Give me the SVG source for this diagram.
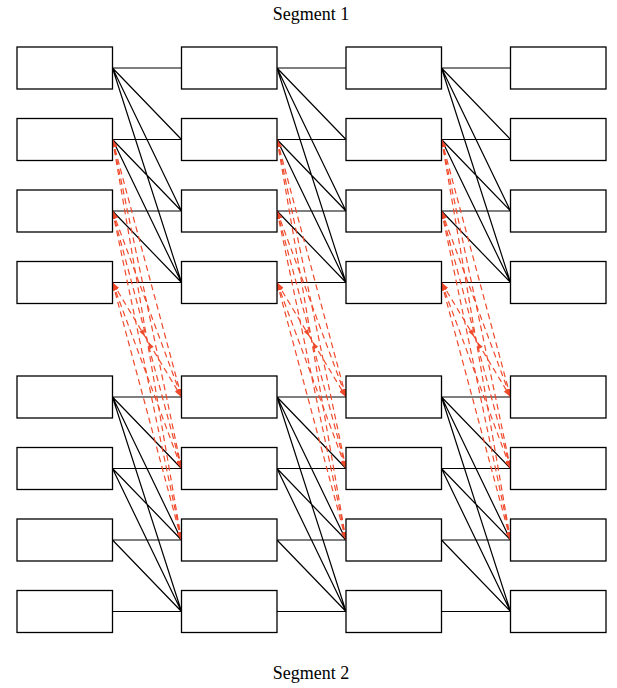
<svg xmlns="http://www.w3.org/2000/svg" width="617" height="688" viewBox="0 0 617 688">
<style>
.box{fill:#fff;stroke:#000;stroke-width:1.3}
.blk{fill:none;stroke:#000;stroke-width:1.2}
.red{fill:none;stroke:#f04a2c;stroke-width:1.2;stroke-dasharray:6 4;marker-start:url(#ah);marker-end:url(#ah)}
.ah{fill:#f04a2c}
.lbl{font-family:"Liberation Serif",serif;font-size:18px;fill:#000;text-anchor:middle}
</style>
<defs>
<marker id="ah" viewBox="0 0 8 6" refX="8" refY="3" markerWidth="8" markerHeight="6" markerUnits="userSpaceOnUse" orient="auto-start-reverse">
<path d="M0,0 L8,3 L0,6 Z" fill="#f04a2c"/>
</marker>
<g id="redset">
<line class="red" x1="112.5" y1="139.5" x2="181.5" y2="397"/>
<line class="red" x1="112.5" y1="139.5" x2="181.5" y2="468.5"/>
<line class="red" x1="112.5" y1="139.5" x2="181.5" y2="540"/>
<line class="red" x1="112.5" y1="211" x2="181.5" y2="397"/>
<line class="red" x1="112.5" y1="211" x2="181.5" y2="468.5"/>
<line class="red" x1="112.5" y1="211" x2="181.5" y2="540"/>
<line class="red" x1="112.5" y1="282.5" x2="181.5" y2="397"/>
<line class="red" x1="112.5" y1="282.5" x2="181.5" y2="468.5"/>
<line class="red" x1="112.5" y1="282.5" x2="181.5" y2="540"/>
<polygon class="ah" points="145,336.5 143.5,329.2 139.3,331.8"/>
<polygon class="ah" points="148,342 153.7,346.7 149.5,349.3"/>
</g>
<path id="blkset" class="blk" d="M112.5,68 L181.5,68 M112.5,68 L181.5,139.5 M112.5,68 L181.5,211 M112.5,68 L181.5,282.5 M112.5,139.5 L181.5,139.5 M112.5,139.5 L181.5,211 M112.5,139.5 L181.5,282.5 M112.5,211 L181.5,211 M112.5,211 L181.5,282.5 M112.5,282.5 L181.5,282.5 M112.5,397 L181.5,397 M112.5,397 L181.5,468.5 M112.5,397 L181.5,540 M112.5,397 L181.5,611.5 M112.5,468.5 L181.5,468.5 M112.5,468.5 L181.5,540 M112.5,468.5 L181.5,611.5 M112.5,540 L181.5,540 M112.5,540 L181.5,611.5 M112.5,611.5 L181.5,611.5"/>
</defs>
<rect width="617" height="688" fill="#fff"/>
<g id="connectors">
<use href="#blkset"/>
<use href="#blkset" x="164.5"/>
<use href="#blkset" x="329"/>
<use href="#redset"/>
<use href="#redset" x="164.5"/>
<use href="#redset" x="329"/>
</g>
<g id="nodes">
<g id="n-c1-r1"><rect class="box" x="17" y="47" width="95.5" height="42"/></g>
<g id="n-c1-r2"><rect class="box" x="17" y="118.5" width="95.5" height="42"/></g>
<g id="n-c1-r3"><rect class="box" x="17" y="190" width="95.5" height="42"/></g>
<g id="n-c1-r4"><rect class="box" x="17" y="261.5" width="95.5" height="42"/></g>
<g id="n-c1-r5"><rect class="box" x="17" y="376" width="95.5" height="42"/></g>
<g id="n-c1-r6"><rect class="box" x="17" y="447.5" width="95.5" height="42"/></g>
<g id="n-c1-r7"><rect class="box" x="17" y="519" width="95.5" height="42"/></g>
<g id="n-c1-r8"><rect class="box" x="17" y="590.5" width="95.5" height="42"/></g>
<g id="n-c2-r1"><rect class="box" x="181.5" y="47" width="95.5" height="42"/></g>
<g id="n-c2-r2"><rect class="box" x="181.5" y="118.5" width="95.5" height="42"/></g>
<g id="n-c2-r3"><rect class="box" x="181.5" y="190" width="95.5" height="42"/></g>
<g id="n-c2-r4"><rect class="box" x="181.5" y="261.5" width="95.5" height="42"/></g>
<g id="n-c2-r5"><rect class="box" x="181.5" y="376" width="95.5" height="42"/></g>
<g id="n-c2-r6"><rect class="box" x="181.5" y="447.5" width="95.5" height="42"/></g>
<g id="n-c2-r7"><rect class="box" x="181.5" y="519" width="95.5" height="42"/></g>
<g id="n-c2-r8"><rect class="box" x="181.5" y="590.5" width="95.5" height="42"/></g>
<g id="n-c3-r1"><rect class="box" x="346" y="47" width="95.5" height="42"/></g>
<g id="n-c3-r2"><rect class="box" x="346" y="118.5" width="95.5" height="42"/></g>
<g id="n-c3-r3"><rect class="box" x="346" y="190" width="95.5" height="42"/></g>
<g id="n-c3-r4"><rect class="box" x="346" y="261.5" width="95.5" height="42"/></g>
<g id="n-c3-r5"><rect class="box" x="346" y="376" width="95.5" height="42"/></g>
<g id="n-c3-r6"><rect class="box" x="346" y="447.5" width="95.5" height="42"/></g>
<g id="n-c3-r7"><rect class="box" x="346" y="519" width="95.5" height="42"/></g>
<g id="n-c3-r8"><rect class="box" x="346" y="590.5" width="95.5" height="42"/></g>
<g id="n-c4-r1"><rect class="box" x="510.5" y="47" width="95.5" height="42"/></g>
<g id="n-c4-r2"><rect class="box" x="510.5" y="118.5" width="95.5" height="42"/></g>
<g id="n-c4-r3"><rect class="box" x="510.5" y="190" width="95.5" height="42"/></g>
<g id="n-c4-r4"><rect class="box" x="510.5" y="261.5" width="95.5" height="42"/></g>
<g id="n-c4-r5"><rect class="box" x="510.5" y="376" width="95.5" height="42"/></g>
<g id="n-c4-r6"><rect class="box" x="510.5" y="447.5" width="95.5" height="42"/></g>
<g id="n-c4-r7"><rect class="box" x="510.5" y="519" width="95.5" height="42"/></g>
<g id="n-c4-r8"><rect class="box" x="510.5" y="590.5" width="95.5" height="42"/></g>
</g>
<g id="labels">
<text class="lbl" x="311" y="20">Segment 1</text>
<text class="lbl" x="311" y="679">Segment 2</text>
</g>
</svg>
